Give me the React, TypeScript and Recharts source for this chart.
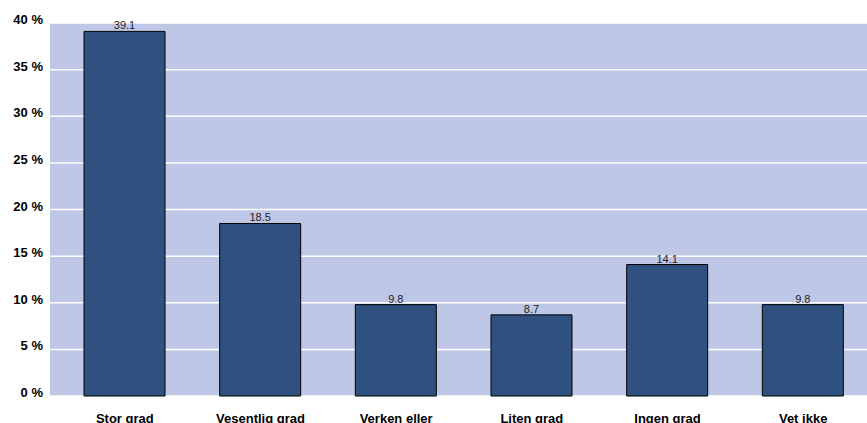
import * as React from "react"
import { BarChart, Bar, XAxis, YAxis, CartesianGrid, LabelList } from "recharts"

const categories = ["Stor grad", "Vesentlig grad", "Verken eller", "Liten grad", "Ingen grad", "Vet ikke"]
const shares = [39.1, 18.5, 9.8, 8.7, 14.1, 9.8]
const yTicks = [0, 5, 10, 15, 20, 25, 30, 35, 40]

const data = categories.map((name, i) => ({ name, value: shares[i] }))

const font = "'Liberation Sans', Arial, sans-serif"

const YTick = (props: any) => {
  const { x, y, payload } = props
  return (
    <text x={x} y={y} dy={1} textAnchor="end" fontFamily={font} fontSize={13} fontWeight="bold" fill="#000">
      {`${payload.value} %`}
    </text>
  )
}

const XTick = (props: any) => {
  const { x, y, payload } = props
  return (
    <text x={x} y={y} dy={19} textAnchor="middle" fontFamily={font} fontSize={13} fontWeight="bold" fill="#000">
      {payload.value}
    </text>
  )
}

export default function App() {
  return (
    <div style={{ position: "absolute", left: 0, top: 0, width: 867, height: 423, overflow: "hidden", background: "#fff" }}>
      <BarChart
        width={871}
        height={423}
        data={data}
        margin={{ top: 23, right: 0, left: 0, bottom: 0 }}
        barCategoryGap="20%"
      >
        <CartesianGrid vertical={false} stroke="#ffffff" strokeWidth={1.5} fill="#BFC7E6" />
        <XAxis
          dataKey="name"
          height={27}
          axisLine={false}
          tickLine={false}
          interval={0}
          padding={{ left: 7, right: 0 }}
          tick={<XTick />}
        />
        <YAxis
          width={50}
          domain={[0, 40]}
          ticks={yTicks}
          axisLine={false}
          tickLine={false}
          tickMargin={1}
          tick={<YTick />}
        />
        <Bar dataKey="value" fill="#30507F" stroke="#000" strokeWidth={1} barSize={81} isAnimationActive={false}>
          <LabelList dataKey="value" position="top" offset={2} fontFamily={font} fontSize={11} fill="#222" />
        </Bar>
      </BarChart>
    </div>
  )
}
